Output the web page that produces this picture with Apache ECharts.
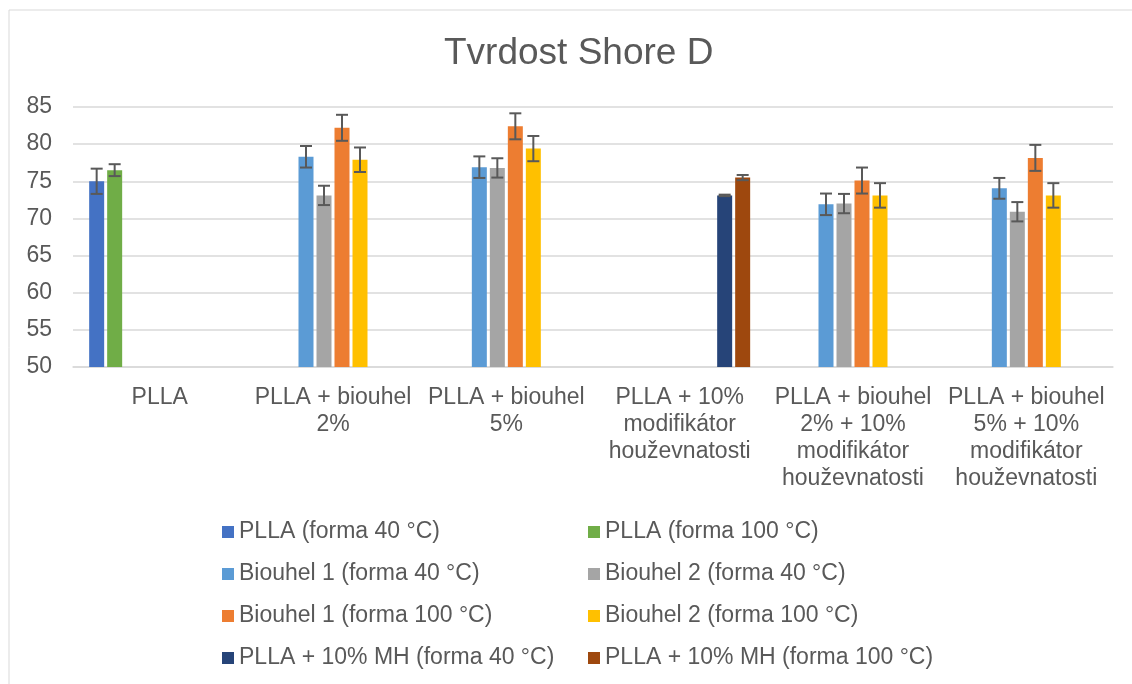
<!DOCTYPE html>
<html>
<head>
<meta charset="utf-8">
<script src="https://cdn.jsdelivr.net/npm/echarts@6/dist/echarts.min.js"></script>
<style>
  html, body { margin: 0; padding: 0; background: #fff; }
  #chart { width: 1132px; height: 684px; }
</style>
</head>
<body>
<div id="chart"></div>
<script>
// kategorie (osa x)
const categories = [
  'PLLA',
  'PLLA + biouhel\n2%',
  'PLLA + biouhel\n5%',
  'PLLA + 10%\nmodifikátor\nhouževnatosti',
  'PLLA + biouhel\n2% + 10%\nmodifikátor\nhouževnatosti',
  'PLLA + biouhel\n5% + 10%\nmodifikátor\nhouževnatosti'
];

const seriesNames = [
  'PLLA (forma 40 °C)',
  'PLLA (forma 100 °C)',
  'Biouhel 1 (forma 40 °C)',
  'Biouhel 2 (forma 40 °C)',
  'Biouhel 1 (forma 100 °C)',
  'Biouhel 2 (forma 100 °C)',
  'PLLA + 10% MH (forma 40 °C)',
  'PLLA + 10% MH (forma 100 °C)'
];

const colors = ['#4472C4', '#70AD47', '#5B9BD5', '#A5A5A5', '#ED7D31', '#FFC000', '#264478', '#9E480E'];

// průměrné hodnoty
const plla40 = [75.0, null, null, null, null, null];
const plla100 = [76.5, null, null, null, null, null];
const bio1_40 = [null, 78.3, 76.9, null, 71.9, 74.05];
const bio2_40 = [null, 73.1, 76.8, null, 72.0, 70.9];
const bio1_100 = [null, 82.2, 82.4, null, 75.1, 78.15];
const bio2_100 = [null, 77.9, 79.4, null, 73.1, 73.1];
const mh40 = [null, null, null, 73.1, null, null];
const mh100 = [null, null, null, 75.5, null, null];

// směrodatné odchylky
const plla40Err = [1.7, null, null, null, null, null];
const plla100Err = [0.8, null, null, null, null, null];
const bio1_40Err = [null, 1.45, 1.45, null, 1.45, 1.4];
const bio2_40Err = [null, 1.3, 1.3, null, 1.3, 1.3];
const bio1_100Err = [null, 1.75, 1.75, null, 1.75, 1.75];
const bio2_100Err = [null, 1.65, 1.7, null, 1.65, 1.65];
const mh40Err = [null, null, null, 0.1, null, null];
const mh100Err = [null, null, null, 0.35, null, null];

const yTicks = [50, 55, 60, 65, 70, 75, 80, 85];

const values = [plla40, plla100, bio1_40, bio2_40, bio1_100, bio2_100, mh40, mh100];
const errors = [plla40Err, plla100Err, bio1_40Err, bio2_40Err, bio1_100Err, bio2_100Err, mh40Err, mh100Err];

const FONT = 'Liberation Sans, Arial, sans-serif';
const TEXT = '#595959';
const BAR_W = 15;
const BAR_GAP = 0.2;

const errData = [];
values.forEach((vals, s) => {
  vals.forEach((v, c) => {
    if (v != null) errData.push([c, v - errors[s][c], v + errors[s][c], s]);
  });
});

const n = values.length;
const totalW = n * BAR_W + (n - 1) * BAR_W * BAR_GAP;

const barSeries = values.map((vals, i) => ({
  name: seriesNames[i],
  type: 'bar',
  data: vals,
  barWidth: BAR_W,
  barGap: '20%',
  itemStyle: { color: colors[i] },
  emphasis: { disabled: true }
}));

const errSeries = {
  type: 'custom',
  z: 5,
  data: errData,
  encode: { x: 0, y: [1, 2] },
  renderItem: (params, api) => {
    const c = api.value(0), s = api.value(3);
    const cx = api.coord([c, 50])[0] - totalW / 2 + s * BAR_W * (1 + BAR_GAP) + BAR_W / 2;
    const yLo = api.coord([c, api.value(1)])[1];
    const yHi = api.coord([c, api.value(2)])[1];
    const half = 6;
    const style = { stroke: '#595959', lineWidth: 2 };
    return {
      type: 'group',
      children: [
        { type: 'line', shape: { x1: cx, y1: yLo, x2: cx, y2: yHi }, style },
        { type: 'line', shape: { x1: cx - half, y1: yHi, x2: cx + half, y2: yHi }, style },
        { type: 'line', shape: { x1: cx - half, y1: yLo, x2: cx + half, y2: yLo }, style }
      ]
    };
  }
};

const chart = echarts.init(document.getElementById('chart'));
chart.setOption({
  animation: false,
  textStyle: { fontFamily: FONT },
  title: {
    text: 'Tvrdost Shore D',
    left: 439,
    top: 30,
    textStyle: { fontFamily: FONT, fontSize: 37, fontWeight: 'normal', color: TEXT }
  },
  graphic: [{
    type: 'rect',
    shape: { x: 9, y: 10, width: 1200, height: 800 },
    style: { fill: 'none', stroke: '#D9D9D9', lineWidth: 1 },
    silent: true
  }],
  legend: [
    {
      orient: 'vertical',
      left: 217,
      top: 515,
      itemWidth: 12,
      itemHeight: 12,
      itemGap: 18,
      icon: 'rect',
      data: [seriesNames[0], seriesNames[2], seriesNames[4], seriesNames[6]],
      textStyle: { fontFamily: FONT, fontSize: 23, color: TEXT, lineHeight: 24 }
    },
    {
      orient: 'vertical',
      left: 583,
      top: 515,
      itemWidth: 12,
      itemHeight: 12,
      itemGap: 18,
      icon: 'rect',
      data: [seriesNames[1], seriesNames[3], seriesNames[5], seriesNames[7]],
      textStyle: { fontFamily: FONT, fontSize: 23, color: TEXT, lineHeight: 24 }
    }
  ],
  grid: { left: 73, right: 19, top: 107, bottom: 317, containLabel: false },
  xAxis: {
    type: 'category',
    data: categories,
    axisLine: { show: true, lineStyle: { color: '#D9D9D9', width: 1.5 } },
    axisTick: { show: false },
    axisLabel: {
      interval: 0,
      margin: 17,
      fontFamily: FONT,
      fontSize: 23,
      lineHeight: 27,
      color: TEXT,
      align: 'center'
    }
  },
  yAxis: {
    type: 'value',
    min: yTicks[0],
    max: yTicks[yTicks.length - 1],
    interval: 5,
    axisLine: { show: false },
    axisTick: { show: false },
    splitLine: { lineStyle: { color: '#D9D9D9', width: 1.5 } },
    axisLabel: { margin: 21, fontFamily: FONT, fontSize: 23, color: TEXT }
  },
  series: [...barSeries, errSeries]
});
</script>
</body>
</html>
